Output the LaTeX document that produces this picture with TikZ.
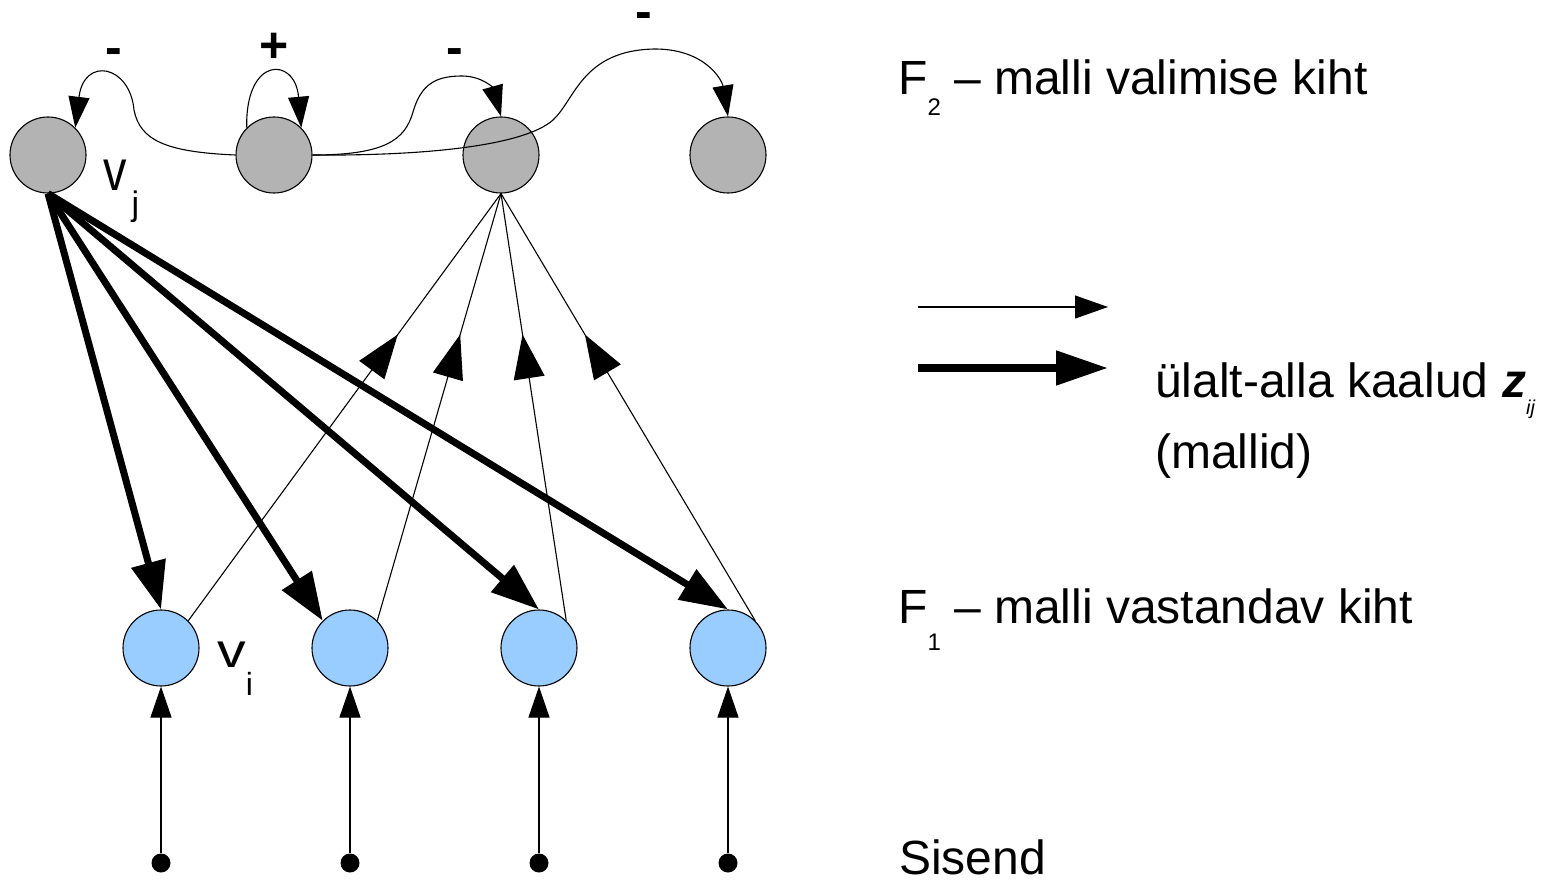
\documentclass[tikz,border=0pt]{standalone}
\usepackage{fontspec}
\setmainfont{Liberation Sans}
\usetikzlibrary{arrows.meta,decorations.markings}
\newcommand\myfs[1]{\fontsize{#1}{#1}\selectfont}
\definecolor{nodegray}{HTML}{B3B3B3}
\definecolor{nodeblue}{HTML}{99CCFF}
\begin{document}
\begin{tikzpicture}[x=1pt,y=-1pt,
  neuron/.style={circle,draw=black,line width=1.1pt,minimum size=76pt,inner sep=0pt},
  f2node/.style={neuron,fill=nodegray},
  f1node/.style={neuron,fill=nodeblue},
  inputdot/.style={circle,fill=black,minimum size=19pt,inner sep=0pt},
  thinline/.style={line width=1.1pt},
  thinarrow/.style={thinline,-{Triangle[length=31pt,width=21pt]}},
  thickarrow/.style={line width=7pt,-{Triangle[length=48pt,width=34pt]}},
  legendthin/.style={thinline,-{Triangle[length=33pt,width=23pt]}},
  legendthick/.style={line width=8pt,-{Triangle[length=52pt,width=33pt]}},
  midarrow/.style={thinline,postaction={decorate},decoration={markings,mark=at position #1 with {\arrow{Triangle[length=44pt,width=31pt]}}}},
  lbl/.style={anchor=base west,inner sep=0pt,font=\myfs{48}},
  sign/.style={anchor=base,inner sep=0pt,font=\myfs{50}\bfseries},
]
\fill[white] (0,0) rectangle (1551,880);
\useasboundingbox (0,0) rectangle (1551,880);

% F2 layer
\node[f2node] (g1) at (48,155) {};
\node[f2node] (g2) at (274,155) {};
\node[f2node] (g3) at (501,155) {};
\node[f2node] (g4) at (728,155) {};
% F1 layer
\node[f1node] (b1) at (161,648) {};
\node[f1node] (b2) at (350,648) {};
\node[f1node] (b3) at (539,648) {};
\node[f1node] (b4) at (728,648) {};
% inputs
\node[inputdot] (d1) at (161,863) {};
\node[inputdot] (d2) at (350,863) {};
\node[inputdot] (d3) at (539,863) {};
\node[inputdot] (d4) at (728,863) {};

% input arrows
\draw[thinarrow] (d1) -- (b1.south);
\draw[thinarrow] (d2) -- (b2.south);
\draw[thinarrow] (d3) -- (b3.south);
\draw[thinarrow] (d4) -- (b4.south);

% bottom-up thin arrows
\draw[midarrow=0.67] (b1.45) -- (g3.south);
\draw[midarrow=0.67] (b2.45) -- (g3.south);
\draw[midarrow=0.67] (b3.45) -- (g3.south);
\draw[midarrow=0.67] (b4.45) -- (g3.south);

% top-down thick arrows
\draw[thickarrow] (g1.south) -- (b1.north);
\draw[thickarrow] (g1.south) -- (b2.135);
\draw[thickarrow] (g1.south) -- (b3.north);
\draw[thickarrow] (g1.south) -- (b4.north);

% lateral connections in F2
\draw[thinarrow] (g2.west) .. controls (165,152) and (140,140) .. (134,110)
  .. controls (130,65) and (84,56) .. (g1.45);
\draw[thinarrow] (g2.135) .. controls (245,56) and (295,56) .. (g2.45);
\draw[thinarrow] (g2.east) .. controls (385,155) and (405,140) .. (413,112)
  .. controls (421,84) and (436,76) .. (462,76)
  .. controls (482,76) and (493,88) .. (g3.north);
\draw[thinarrow] (g2.east) .. controls (430,156) and (525,145) .. (553,120)
  .. controls (575,100) and (582,50) .. (655,49)
  .. controls (705,49) and (722,80) .. (g4.north);

\node[sign] (s1) at (114,65) {-};
\node[sign] (s2) at (274,63) {+};
\node[sign] (s3) at (455,65) {-};
\node[sign] (s4) at (644,29) {-};

% node labels
\node[anchor=base west,inner sep=0pt] (vj) at (103,190)
  {\myfs{52}\scalebox{0.9}[1.11]{v}\hspace{5pt}\raisebox{-25pt}{\myfs{34}j}};
\node[anchor=base west,inner sep=0pt] (vi) at (217,667)
  {\myfs{52}\scalebox{1.1}[0.93]{v}\raisebox{-28pt}{\myfs{32}i}};

% legend
\coordinate (lt1) at (918,307);
\coordinate (lt2) at (1108,307);
\draw[legendthin] (lt1) -- (lt2);
\coordinate (lk1) at (918,368);
\coordinate (lk2) at (1108,368);
\draw[legendthick] (lk1) -- (lk2);

\node[lbl] (f2lab) at (898,95) {F\raisebox{-21pt}{\myfs{24}2} – malli valimise kiht};
\node[lbl] (f1lab) at (898,623) {F\raisebox{-27pt}{\myfs{24}1} – malli vastandav kiht};
\node[lbl] (inlab) at (899,874) {Sisend};
\node[lbl] (wlab) at (1155,397) {ülalt-alla kaalud \textbf{\textit{z}}\raisebox{-17pt}{\myfs{20}\textit{ij}}};
\node[lbl] (mlab) at (1155,468) {(mallid)};
\end{tikzpicture}
\end{document}
